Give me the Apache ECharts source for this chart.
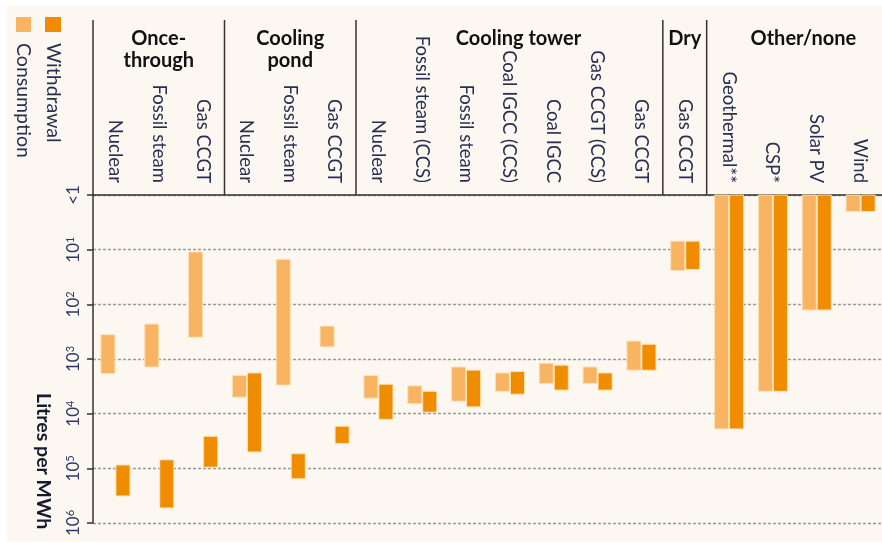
<!DOCTYPE html>
<html>
<head>
<meta charset="utf-8">
<script src="https://cdn.jsdelivr.net/npm/echarts@6/dist/echarts.min.js"></script>
<style>
  html, body { margin: 0; padding: 0; background: #ffffff; }
  #wrap { position: relative; width: 882px; height: 543px; }
  #bg { position: absolute; left: 7px; top: 6px; width: 875px; height: 535px; background: #fdf7f2; }
  #chart { position: absolute; left: 0; top: 0; width: 882px; height: 543px; }
</style>
</head>
<body>
<div id="wrap"><div id="bg"></div><div id="chart"></div></div>
<script>
// Cooling technology groups and the plant types inside each of them
const groupNames = ['Once-\nthrough', 'Cooling\npond', 'Cooling tower', 'Dry', 'Other/none'];
const groupSizes = [3, 3, 7, 1, 4];
const categories = [
  'Nuclear', 'Fossil steam', 'Gas CCGT',
  'Nuclear', 'Fossil steam', 'Gas CCGT',
  'Nuclear', 'Fossil steam (CCS)', 'Fossil steam', 'Coal IGCC (CCS)', 'Coal IGCC', 'Gas CCGT (CCS)', 'Gas CCGT',
  'Gas CCGT',
  'Geothermal**', 'CSP*', 'Solar PV', 'Wind'
];

// Water use ranges in litres per MWh (low, high); 1 stands for "<1"
const consumptionLow  = [360, 230, 11, 2000, 15, 250, 2000, 3100, 1400, 1800, 1200, 1400, 470, 7, 1, 1, 1, 1];
const consumptionHigh = [1850, 1400, 400, 5000, 3000, 600, 5200, 6600, 5900, 3900, 2800, 2800, 1600, 24, 19000, 3900, 127, 2];
const withdrawalLow   = [87000, 70000, 26000, 1800, 54000, 17000, 2900, 3900, 1600, 1700, 1300, 1800, 540, 7, 1, 1, 1, 1];
const withdrawalHigh  = [320000, 530000, 95000, 50000, 155000, 35000, 12700, 9400, 7500, 4400, 3700, 3700, 1600, 23, 19000, 3900, 127, 2];

const legendNames = ['Consumption', 'Withdrawal'];
const colLight = '#f8b463';
const colDark = '#f08c00';
const textCol = '#28304f';
const FONT = 'Lato, "Open Sans", sans-serif';
// horizontal shift of each group title from its group centre, in px
const titleShift = [0, 0, 9, 0, 9];

function rows(lo, hi) {
  return categories.map((c, i) => [i, lo[i], hi[i]]);
}

function rangeBar(side, fill) {
  return function (params, api) {
    const idx = api.value(0);
    const p1 = api.coord([idx, api.value(1)]);
    const p2 = api.coord([idx, api.value(2)]);
    const band = api.size([1, 1], [idx, 10])[0];
    const w = band * 0.32;
    const x0 = side === 'left' ? p1[0] - w : p1[0] + 1;
    return {
      type: 'rect',
      shape: { x: x0, y: Math.min(p1[1], p2[1]), width: w, height: Math.abs(p2[1] - p1[1]) },
      style: { fill: fill, stroke: 'rgba(255,226,180,0.9)', lineWidth: 1 }
    };
  };
}

const chart = echarts.init(document.getElementById('chart'), null, { renderer: 'canvas' });

chart.setOption({
  animation: false,
  grid: { left: 93, right: 0, top: 195, bottom: 20 },
  xAxis: {
    type: 'category',
    position: 'top',
    data: categories,
    axisLine: { show: true, lineStyle: { color: '#333', width: 1.5 } },
    axisTick: { show: false },
    axisLabel: { interval: 0, rotate: 90, margin: 12, color: textCol, fontSize: 18.5, fontFamily: FONT },
    splitLine: { show: false }
  },
  yAxis: {
    type: 'log',
    logBase: 10,
    min: 1,
    max: 1e6,
    splitNumber: 6,
    inverse: true,
    axisLine: { show: true, lineStyle: { color: '#333', width: 1.5 } },
    axisTick: { show: true, length: 6, lineStyle: { color: '#333', width: 1.5 } },
    splitLine: { show: true, lineStyle: { color: '#9a9a9a', type: [3, 2], width: 1.3 } },
    axisLabel: {
      rotate: 90,
      margin: 11,
      color: '#2c3968',
      fontFamily: FONT,
      formatter: function (v) {
        if (v <= 1) return '{b|<1}';
        const e = Math.round(Math.log10(v));
        return '{b|10}{s|' + e + '}';
      },
      rich: {
        b: { fontSize: 17, fontFamily: FONT, color: '#2c3968' },
        s: { fontSize: 11, fontFamily: FONT, color: '#2c3968', verticalAlign: 'top' }
      }
    }
  },
  series: [
    {
      name: legendNames[0], type: 'custom', renderItem: rangeBar('left', colLight),
      encode: { x: 0, y: [1, 2] }, data: rows(consumptionLow, consumptionHigh), z: 3
    },
    {
      name: legendNames[1], type: 'custom', renderItem: rangeBar('right', colDark),
      encode: { x: 0, y: [1, 2] }, data: rows(withdrawalLow, withdrawalHigh), z: 3
    }
  ]
});

// Header: group separators and group titles, placed from the category axis
const c0 = chart.convertToPixel({ xAxisIndex: 0 }, 0);
const c1 = chart.convertToPixel({ xAxisIndex: 0 }, 1);
const band = c1 - c0;
const start = c0 - band / 2;
const axisTop = 195, headTop = 20;
const graphics = [];
let acc = 0;
groupSizes.forEach(function (n, g) {
  const xL = start + acc * band;
  const xR = start + (acc + n) * band;
  graphics.push({
    type: 'line', z: 10,
    shape: { x1: xL, y1: headTop, x2: xL, y2: axisTop },
    style: { stroke: '#333', lineWidth: 1.5 }
  });
  graphics.push({
    type: 'text', z: 10,
    x: (xL + xR) / 2 + titleShift[g], y: 28,
    style: {
      text: groupNames[g], fill: '#111', font: 'bold 20px ' + FONT,
      textAlign: 'center', textVerticalAlign: 'top', lineHeight: 22
    }
  });
  acc += n;
});

// Legend swatches with rotated labels
graphics.push({ type: 'rect', shape: { x: 16, y: 17, width: 15, height: 15 }, style: { fill: colLight } });
graphics.push({ type: 'rect', shape: { x: 45, y: 17, width: 16, height: 15 }, style: { fill: colDark } });
graphics.push({
  type: 'text', x: 23.5, y: 43, rotation: -Math.PI / 2,
  style: { text: legendNames[0], fill: textCol, font: '19.5px ' + FONT, textAlign: 'left', textVerticalAlign: 'middle' }
});
graphics.push({
  type: 'text', x: 53.5, y: 43, rotation: -Math.PI / 2,
  style: { text: legendNames[1], fill: textCol, font: '19.5px ' + FONT, textAlign: 'left', textVerticalAlign: 'middle' }
});

// Value axis title
graphics.push({
  type: 'text', x: 43, y: 393, rotation: -Math.PI / 2,
  style: { text: 'Litres per MWh', fill: '#151a2e', font: 'bold 19.5px ' + FONT, textAlign: 'left', textVerticalAlign: 'middle' }
});

chart.setOption({ graphic: graphics });
</script>
</body>
</html>
